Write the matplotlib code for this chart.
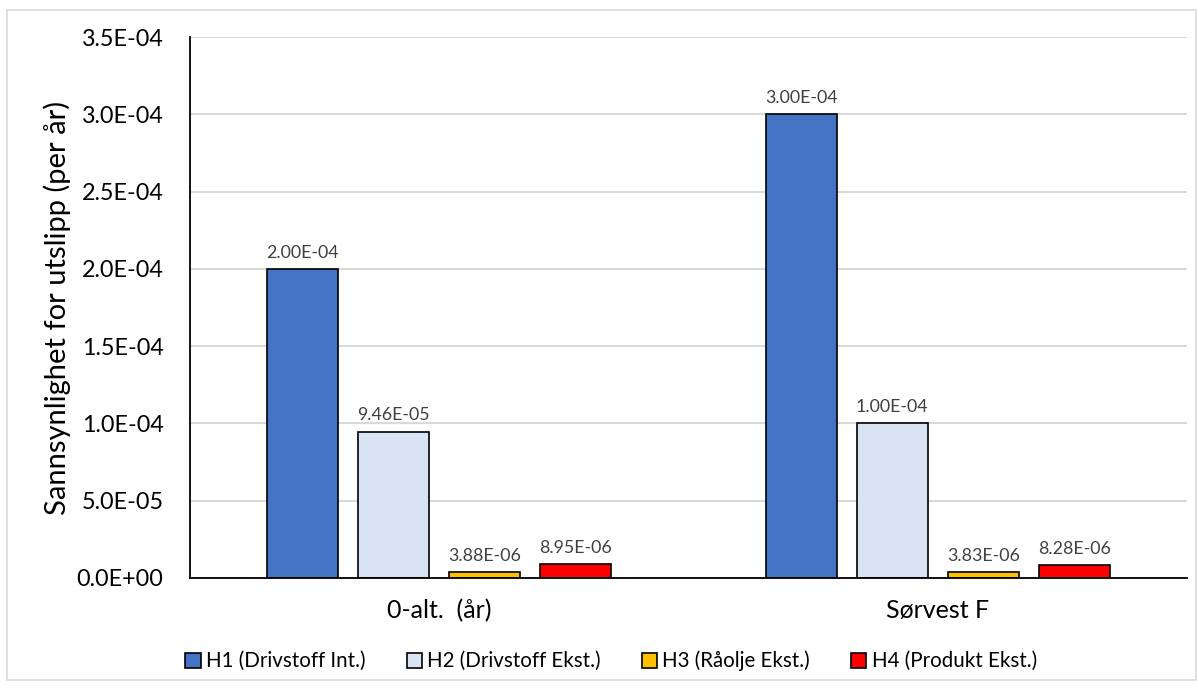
import matplotlib.pyplot as plt
from matplotlib.patches import Rectangle
from matplotlib.ticker import FuncFormatter
import numpy as np

categories = ["0-alt.  (år)", "Sørvest F"]
series_names = ["H1 (Drivstoff Int.)", "H2 (Drivstoff Ekst.)", "H3 (Råolje Ekst.)", "H4 (Produkt Ekst.)"]
h1 = [2.00e-04, 3.00e-04]
h2 = [9.46e-05, 1.00e-04]
h3 = [3.88e-06, 3.83e-06]
h4 = [8.95e-06, 8.28e-06]
colors = ["#4472C4", "#DAE3F3", "#FFC000", "#FF0000"]

plt.rcParams['font.family'] = ['Lato', 'DejaVu Sans']

fig = plt.figure(figsize=(11.98, 6.88), dpi=100)
fig.patches.append(Rectangle((7 / 1198, 8 / 688), 1189 / 1198, 670 / 688,
                             transform=fig.transFigure, fill=False,
                             edgecolor="#D9D9D9", linewidth=1.2))
ax = fig.add_axes([190 / 1198, 1 - 578 / 688, (1187 - 190) / 1198, (578 - 37) / 688])

x = np.arange(len(categories))
width = 0.143
step = 0.1825
for i, (vals, name) in enumerate(zip([h1, h2, h3, h4], series_names)):
    pos = x + (i - 1.5) * step
    bars = ax.bar(pos, vals, width, color=colors[i], edgecolor="black",
                  linewidth=1.2, label=name, zorder=3)
    for b, v in zip(bars, vals):
        ax.annotate(f"{v:.2E}", (b.get_x() + b.get_width() / 2, v),
                    xytext=(0, 6), textcoords="offset points",
                    ha="center", va="bottom", fontsize=12.8, color="#404040")

ax.set_xlim(-0.5, 1.5)
ax.set_ylim(0, 3.5e-04)
ax.set_yticks(np.arange(0, 3.51e-04, 0.5e-04))
ax.yaxis.set_major_formatter(FuncFormatter(lambda v, p: f"{v:.1E}"))
ax.set_xticks(x)
ax.set_xticklabels(categories)
ax.tick_params(axis="both", length=0)
ax.tick_params(axis="y", labelsize=16.8, pad=19)
ax.tick_params(axis="x", labelsize=18, pad=15)
ax.grid(axis="y", color="#D9D9D9", linewidth=1.5, zorder=0)
ax.set_axisbelow(True)
for s in ["top", "right"]:
    ax.spines[s].set_visible(False)
for s in ["left", "bottom"]:
    ax.spines[s].set_color("black")
    ax.spines[s].set_linewidth(1.3)
    ax.spines[s].set_zorder(4)

ax.set_ylabel("Sannsynlighet for utslipp (per år)", fontsize=21, labelpad=4)

fig.legend(loc="center", bbox_to_anchor=(611 / 1198, 1 - 661 / 688), ncol=4,
           frameon=False, fontsize=14.8, handlelength=0.75, handleheight=0.75,
           handletextpad=0.25, columnspacing=2.0)

fig.savefig("out.png", dpi=100)
